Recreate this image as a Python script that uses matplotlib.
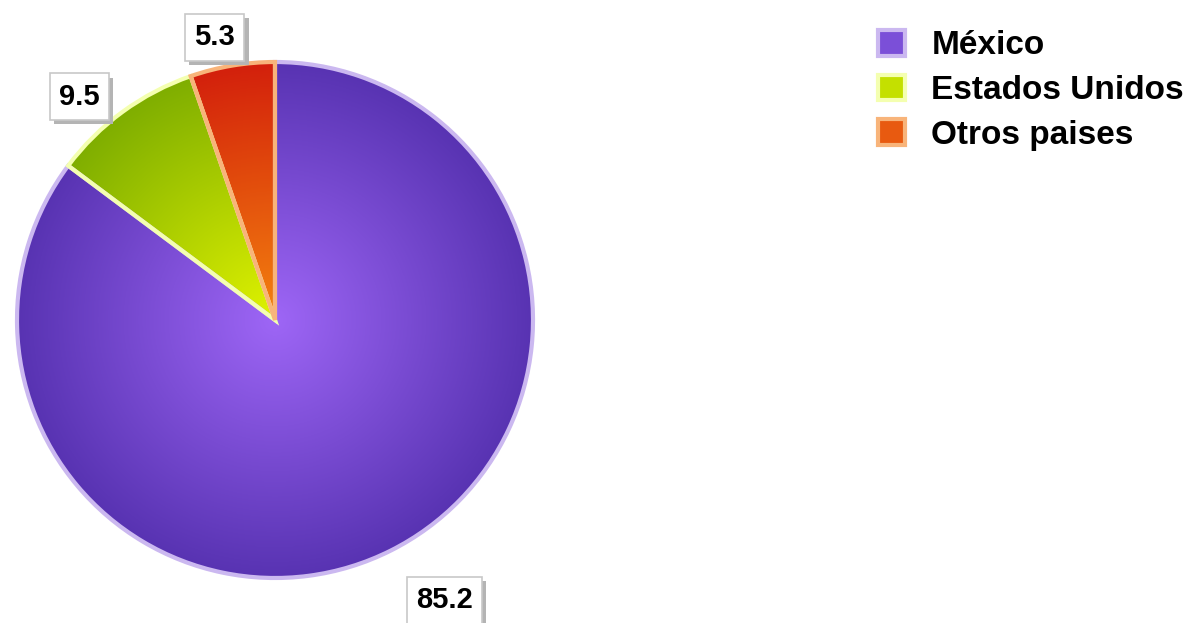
import numpy as np
import matplotlib.pyplot as plt
import matplotlib.patheffects as pe
from matplotlib.colors import LinearSegmentedColormap
from matplotlib.patches import Patch

plt.rcParams['font.family'] = ['Liberation Sans', 'DejaVu Sans']

paises = ['México', 'Estados Unidos', 'Otros paises']
valores = [85.2, 9.5, 5.3]
etiquetas = ['85.2', '9.5', '5.3']

centro_col = ['#9e66f6', '#e0f300', '#f4820e']
borde_col = ['#5833b2', '#7fae00', '#d3200c']
linea_col = ['#cbb8f0', '#f4ffb0', '#f8b47a']
leyenda_col = ['#7b4fd8', '#c4e000', '#e85a10']

W, H = 1198, 623
fig = plt.figure(figsize=(W / 100, H / 100), dpi=100)
cx, cy, R = 275, 623 - 320, 258
ax = fig.add_axes([0, 0, 2 * cx / W, 2 * cy / H])

wedges, _ = ax.pie(valores, startangle=90, counterclock=False, radius=1,
                   wedgeprops=dict(linewidth=3))

yy, xx = np.mgrid[-1:1:500j, -1:1:500j]
rr = np.clip(np.hypot(xx, yy), 0, 1)
for i, w in enumerate(wedges):
    cmap = LinearSegmentedColormap.from_list('g%d' % i, [centro_col[i], borde_col[i]])
    im = ax.imshow(rr, cmap=cmap, extent=[-1, 1, -1, 1], origin='lower',
                   vmin=0, vmax=1, zorder=1)
    im.set_clip_path(w)
    w.set_facecolor('none')
    w.set_edgecolor(linea_col[i])
    w.set_zorder(3 + (i > 0))
ax.set_xlim(-cx / R, cx / R)
ax.set_ylim(-cy / R, cy / R)
ax.set_aspect('equal')
ax.axis('off')

# label placement: distance from centre and angular nudge (degrees)
dist = [1.27, 1.15, 1.12]
nudge = [4.5, 5.0, 2.5]
for i, w in enumerate(wedges):
    ang = np.deg2rad((w.theta1 + w.theta2) / 2 + nudge[i])
    x, y = dist[i] * np.cos(ang), dist[i] * np.sin(ang)
    t = ax.text(x, y, etiquetas[i], ha='center', va='center', fontsize=21,
                fontweight='bold', zorder=10,
                bbox=dict(boxstyle='square,pad=0.32', fc='white', ec='#c8c8c8', lw=1.2))
    t.get_bbox_patch().set_path_effects([
        pe.SimplePatchShadow(offset=(3, -3), shadow_rgbFace='#b4b4b4', alpha=1),
        pe.Normal()])

handles = [Patch(facecolor=leyenda_col[i], edgecolor=linea_col[i], linewidth=3)
           for i in range(3)]
leg = fig.legend(handles, paises, loc='upper left', bbox_to_anchor=(848 / W, 1 - 0 / H),
                 frameon=False, handlelength=0.8, handleheight=0.8, handletextpad=0.8,
                 labelspacing=0.4, prop=dict(size=24, weight='bold'))

fig.savefig('out.png', dpi=100)
